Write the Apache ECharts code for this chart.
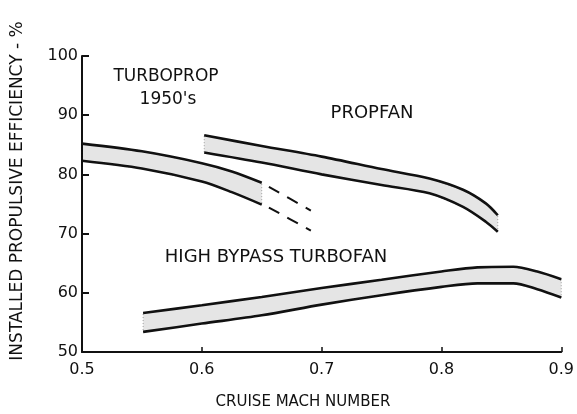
<!DOCTYPE html>
<html>
<head>
<meta charset="utf-8">
<style>
  html, body { margin: 0; padding: 0; background: #fff; }
  #chart { width: 577px; height: 414px; }
</style>
<script src="https://cdn.jsdelivr.net/npm/echarts@6/dist/echarts.min.js"></script>
</head>
<body>
<div id="chart"></div>
<script>
// turboprop 1950's band
var turbopropMach = [0.5, 0.55, 0.6, 0.625, 0.65];
var turbopropUpper = [85.2, 83.9, 81.9, 80.5, 78.6];
var turbopropLower = [82.3, 81.0, 78.8, 77.0, 74.9];
// dashed extension
var turbopropExtMach = [0.656, 0.691];
var turbopropExtUpper = [77.9, 73.9];
var turbopropExtLower = [74.4, 70.5];

// propfan band
var propfanMach = [0.602, 0.65, 0.7, 0.75, 0.79, 0.818, 0.837, 0.847];
var propfanUpper = [86.6, 84.8, 83.0, 80.9, 79.3, 77.4, 75.1, 73.1];
var propfanLower = [83.7, 82.0, 80.0, 78.2, 76.8, 74.5, 72.0, 70.3];

// high bypass turbofan band
var turbofanMach = [0.551, 0.6, 0.65, 0.7, 0.75, 0.8, 0.83, 0.86, 0.88, 0.9];
var turbofanUpper = [56.6, 57.9, 59.3, 60.8, 62.2, 63.6, 64.3, 64.4, 63.6, 62.3];
var turbofanLower = [53.4, 54.8, 56.2, 58.0, 59.6, 61.0, 61.6, 61.6, 60.6, 59.2];

var FONT = 'DejaVu Sans';
var INK = '#111';

function pairs(xs, ys) {
  return xs.map(function (x, i) { return [x, ys[i]]; });
}

// stippled fill between two curves
function band(mach, upper, lower) {
  return {
    type: 'custom',
    coordinateSystem: 'cartesian2d',
    silent: true,
    z: 1,
    data: [[mach[0], upper[0]]],
    renderItem: function (params, api) {
      var pts = [];
      for (var i = 0; i < mach.length; i++) pts.push(api.coord([mach[i], upper[i]]));
      for (var j = mach.length - 1; j >= 0; j--) pts.push(api.coord([mach[j], lower[j]]));
      return {
        type: 'polygon',
        shape: { points: pts },
        style: { fill: 'rgba(0,0,0,0.10)', stroke: 'rgba(0,0,0,0.35)', lineWidth: 1, lineDash: [1, 2] }
      };
    }
  };
}

function edge(mach, vals, dashed) {
  return {
    type: 'line',
    data: pairs(mach, vals),
    smooth: 0.3,
    symbol: 'none',
    silent: true,
    z: 3,
    lineStyle: { color: INK, width: dashed ? 2 : 2.6, type: dashed ? [12, 9] : 'solid' }
  };
}

function label(text, x, y, size) {
  return {
    type: 'text', x: x, y: y,
    style: {
      text: text, font: size + 'px "DejaVu Sans"',
      fill: INK, align: 'center', verticalAlign: 'middle'
    }
  };
}

var myChart = echarts.init(document.getElementById('chart'));
myChart.setOption({
  animation: false,
  grid: { left: 82, right: 15, top: 56, bottom: 62 },
  xAxis: {
    type: 'value',
    min: 0.5,
    max: 0.9,
    interval: 0.1,
    splitLine: { show: false },
    axisLine: { lineStyle: { color: INK, width: 2 } },
    axisTick: { inside: true, length: 5, lineStyle: { color: INK, width: 1.5 } },
    axisLabel: {
      color: INK, fontFamily: FONT, fontSize: 16, margin: 10,
      formatter: function (v) { return v.toFixed(1); }
    }
  },
  yAxis: {
    type: 'value',
    min: 50,
    max: 100,
    interval: 10,
    splitLine: { show: false },
    axisLine: { lineStyle: { color: INK, width: 2 } },
    axisTick: { inside: true, length: 7, lineStyle: { color: INK, width: 2 } },
    axisLabel: { color: INK, fontFamily: FONT, fontSize: 16, margin: 4 }
  },
  graphic: [
    {
      type: 'text', x: 18, y: 191, rotation: Math.PI / 2,
      style: {
        text: 'INSTALLED PROPULSIVE EFFICIENCY - %', font: '17px "DejaVu Sans"',
        fill: INK, align: 'center', verticalAlign: 'middle'
      }
    },
    label('CRUISE MACH NUMBER', 303, 402, 15),
    label('TURBOPROP', 166, 77, 17),
    label("1950's", 168, 100, 17),
    label('PROPFAN', 372, 113, 18),
    label('HIGH BYPASS TURBOFAN', 276, 257, 18)
  ],
  series: [
    band(turbopropMach, turbopropUpper, turbopropLower),
    edge(turbopropMach, turbopropUpper),
    edge(turbopropMach, turbopropLower),
    edge(turbopropExtMach, turbopropExtUpper, true),
    edge(turbopropExtMach, turbopropExtLower, true),
    band(propfanMach, propfanUpper, propfanLower),
    edge(propfanMach, propfanUpper),
    edge(propfanMach, propfanLower),
    band(turbofanMach, turbofanUpper, turbofanLower),
    edge(turbofanMach, turbofanUpper),
    edge(turbofanMach, turbofanLower)
  ]
});

window.addEventListener('resize', function () {
  myChart.resize();
});
</script>
</body>
</html>
